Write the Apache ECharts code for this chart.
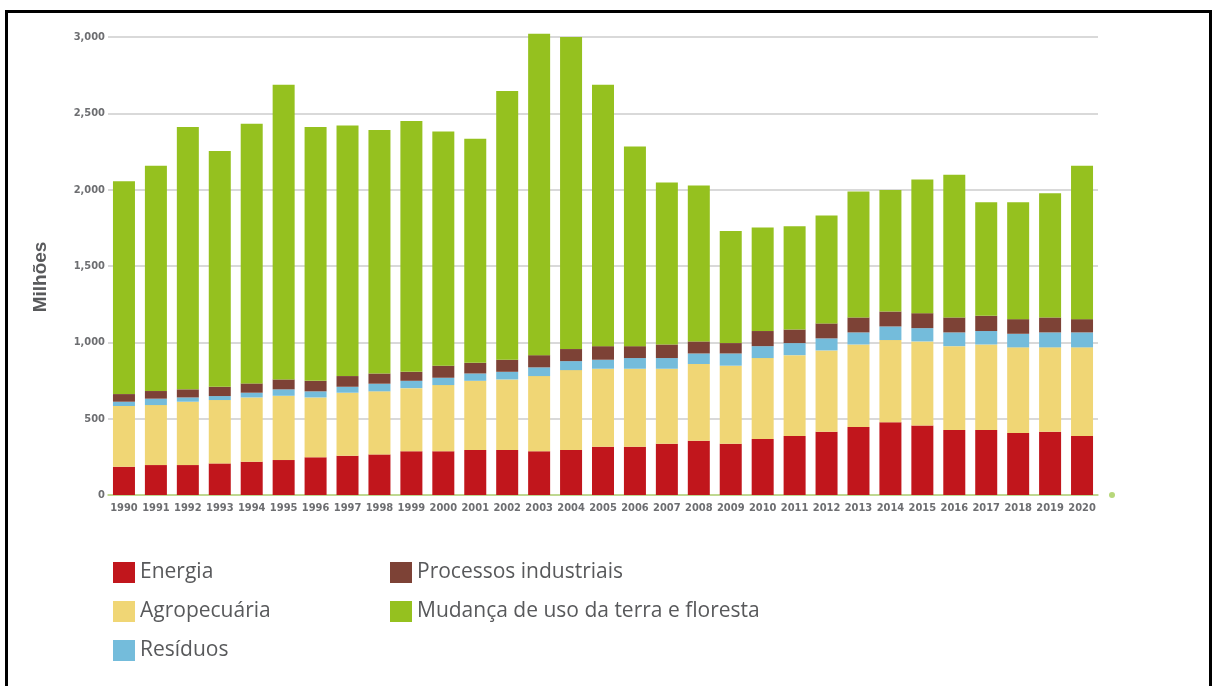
<!DOCTYPE html>
<html>
<head>
<meta charset="utf-8">
<script src="https://cdn.jsdelivr.net/npm/echarts@6/dist/echarts.min.js"></script>
<style>
  html, body { margin: 0; padding: 0; background: #fff; }
  #chart { width: 1212px; height: 686px; }
  #frame { position: absolute; left: 5px; top: 10px; width: 1207px; height: 700px; border: 3px solid #000; box-sizing: border-box; pointer-events: none; }
</style>
</head>
<body>
<div id="chart"></div>
<div id="frame"></div>
<script>
const years = ['1990', '1991', '1992', '1993', '1994', '1995', '1996', '1997', '1998', '1999', '2000',
  '2001', '2002', '2003', '2004', '2005', '2006', '2007', '2008', '2009', '2010',
  '2011', '2012', '2013', '2014', '2015', '2016', '2017', '2018', '2019', '2020']

// milhões de toneladas
const energia = [185, 196, 196, 207, 218, 229, 247, 257, 266, 286, 286, 295, 295, 286, 295, 316, 316, 336, 356, 336, 367, 386, 415, 445, 476, 456, 425, 425, 406, 415, 386]
const agropecuaria = [398, 393, 415, 415, 421, 421, 392, 413, 413, 414, 434, 453, 462, 493, 523, 511, 511, 491, 502, 511, 530, 530, 532, 541, 539, 550, 550, 561, 561, 552, 581]
const residuos = [28, 42, 28, 26, 31, 42, 40, 39, 50, 48, 48, 48, 50, 57, 59, 59, 70, 70, 69, 80, 78, 79, 79, 79, 89, 87, 90, 88, 89, 98, 98]
const processos = [50, 50, 53, 61, 61, 65, 69, 70, 67, 59, 79, 70, 79, 80, 79, 89, 78, 89, 79, 68, 99, 89, 98, 98, 98, 98, 98, 100, 96, 98, 87]
const mudancaUso = [1394, 1475, 1719, 1545, 1700, 1931, 1663, 1641, 1595, 1643, 1534, 1467, 1761, 2106, 2044, 1713, 1307, 1061, 1021, 735, 678, 677, 707, 825, 795, 875, 934, 744, 766, 814, 1004]

const textGray = '#58595b'
const axisFont = {
  fontFamily: "'Liberation Sans Narrow', 'DejaVu Sans Condensed', Roboto, sans-serif",
  fontWeight: 'bold',
  fontSize: 11,
  color: '#6d6e71'
}

const bar = (name, data, color) => ({
  name,
  type: 'bar',
  stack: 'total',
  barWidth: 22,
  clip: false,
  data,
  itemStyle: { color },
  emphasis: { disabled: true }
})

const legendStyle = {
  orient: 'vertical',
  top: 562,
  padding: 0,
  itemWidth: 22,
  itemHeight: 21,
  itemGap: 18,
  icon: 'rect',
  textStyle: { fontFamily: "'Open Sans'", fontSize: 21, color: textGray, padding: [3, 0, 0, 0] }
}

const chart = echarts.init(document.getElementById('chart'), null, { renderer: 'canvas' })
chart.setOption({
  animation: false,
  backgroundColor: '#fff',
  grid: { left: 108, right: 114, top: 37, bottom: 191, containLabel: false },
  legend: [
    { ...legendStyle, left: 113, data: ['Energia', 'Agropecuária', 'Resíduos'] },
    { ...legendStyle, left: 390, data: ['Processos industriais', 'Mudança de uso da terra e floresta'] }
  ],
  xAxis: {
    type: 'category',
    data: years,
    axisLine: { lineStyle: { color: '#b7d77a', width: 1.5 }, symbol: ['none', 'circle'], symbolSize: [6, 6], symbolOffset: [0, 14] },
    axisTick: { show: false },
    axisLabel: { ...axisFont, margin: 8, interval: 0 }
  },
  yAxis: {
    type: 'value',
    min: 0,
    max: 3000,
    interval: 500,
    name: 'Milhões',
    nameLocation: 'middle',
    nameGap: 58,
    nameTextStyle: { fontFamily: "'Liberation Sans'", fontWeight: 'bold', fontSize: 19, color: textGray, padding: [0, 22, 0, 0] },
    axisLine: { show: false },
    axisTick: { show: false },
    axisLabel: { ...axisFont, margin: 3, formatter: v => v.toLocaleString('en-US') },
    splitLine: { lineStyle: { color: '#cccccc', width: 1.5 } }
  },
  series: [
    bar('Energia', energia, '#c1161c'),
    bar('Agropecuária', agropecuaria, '#f0d675'),
    bar('Resíduos', residuos, '#74bcdb'),
    bar('Processos industriais', processos, '#7d4236'),
    bar('Mudança de uso da terra e floresta', mudancaUso, '#95c11f')
  ]
})
</script>
</body>
</html>
